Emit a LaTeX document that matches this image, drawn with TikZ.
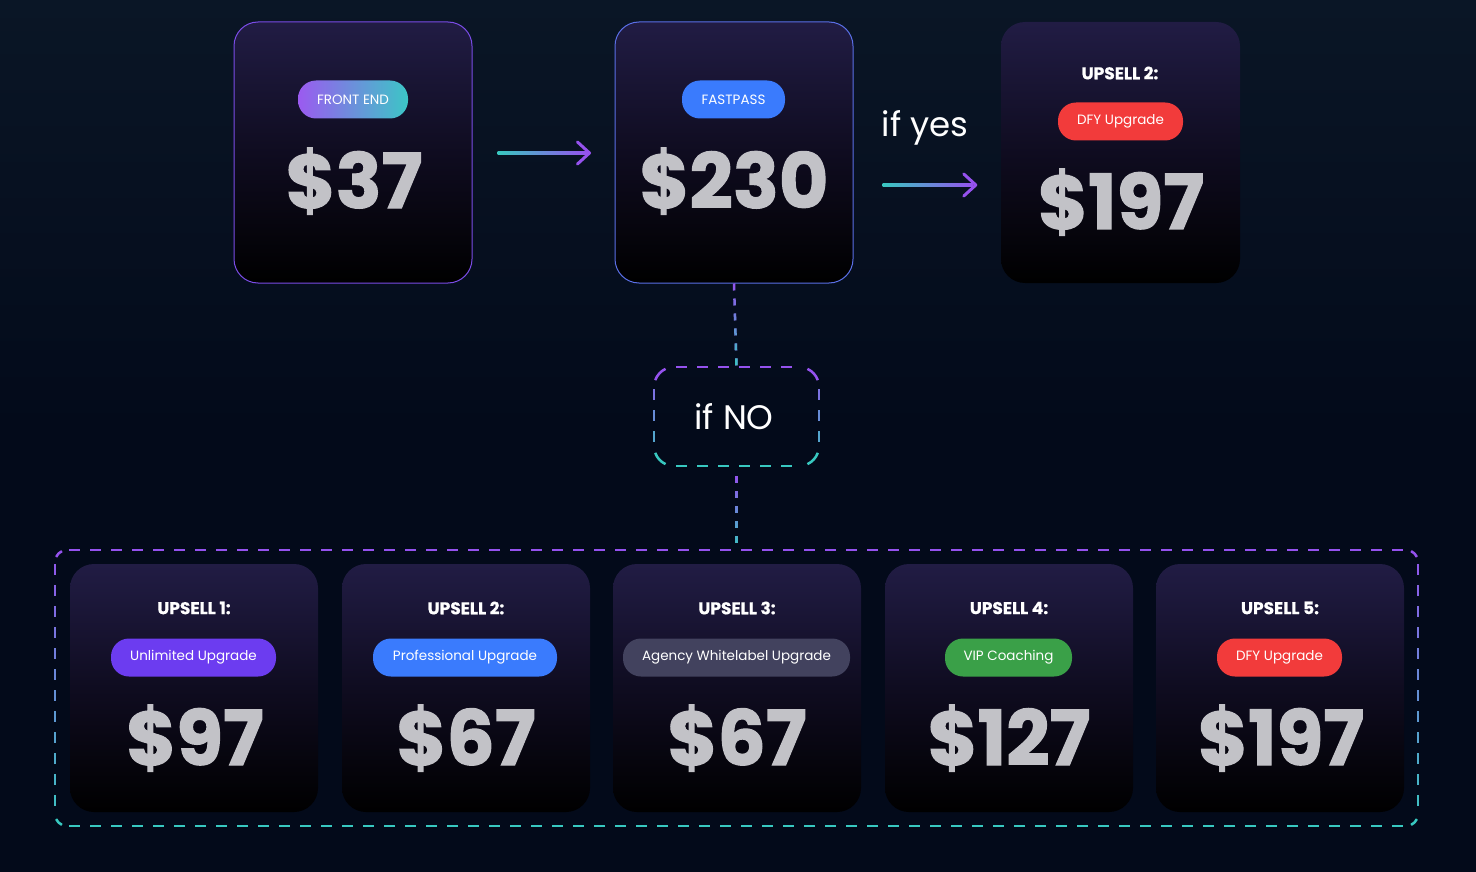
\documentclass[tikz,border=0pt]{standalone}
\usepackage{fontspec}
\setmainfont{Poppins}
\newfontfamily\pricefont{Poppins}[BoldFeatures={FakeBold=1.5}]
\newfontfamily\headfont{Poppins}[BoldFeatures={FakeBold=0.6}]
\usetikzlibrary{calc,fadings}
\definecolor{bg}{HTML}{030A1A}
\definecolor{bgtop}{HTML}{0A1626}
\definecolor{cardtop}{HTML}{211C44}
\definecolor{cardmid}{HTML}{0F0C20}
\definecolor{cardline}{HTML}{7A4CE6}
\definecolor{cardline2}{HTML}{5A6FE6}
\definecolor{dpurple}{HTML}{9552EE}
\definecolor{dteal}{HTML}{38C8C0}
\definecolor{pricecol}{HTML}{C2C2C7}
\definecolor{pillpurpleA}{HTML}{9B5AF0}
\definecolor{pilltealB}{HTML}{3CC6C6}
\definecolor{pillblue}{HTML}{3A7BFD}
\definecolor{pillred}{HTML}{F23B3B}
\definecolor{pillviolet}{HTML}{6C3CF0}
\definecolor{pillgray}{HTML}{42425E}
\definecolor{pillgreen}{HTML}{3AA048}
\tikzfading[name=fadeup, top color=transparent!100, bottom color=transparent!0]
\begin{document}
\begin{tikzpicture}[x=1pt,y=-1pt,
  card/.style={rectangle, rounded corners=24pt, top color=cardtop, bottom color=black, middle color=cardmid, inner sep=0pt},
  topcard/.style={card, minimum width=238pt, minimum height=261pt},
  lowcard/.style={card, minimum width=248pt, minimum height=248pt},
  pill/.style={rectangle, rounded corners=18pt, minimum height=38pt, text=white, inner sep=0pt, font=\fontsize{13.5}{15}\selectfont},
  price/.style={anchor=base, text=pricecol, inner sep=0pt, font=\pricefont\bfseries\fontsize{76}{82}\selectfont},
  head/.style={text=white, inner sep=0pt, font=\headfont\bfseries\fontsize{17}{20}\selectfont},
  hand/.style={text=white, inner sep=0pt, font=\fontsize{34}{38}\selectfont},
  arrowhead/.style={draw=dpurple, line width=3pt, line cap=round, line join=round},
  dashline/.style={line width=2.5pt, dash pattern=on 7pt off 8pt},
  dsh/.style={line width=2.5pt},
  dedge/.style={line width=2.5pt, dash pattern=on 11pt off 10pt}
]
% background
\fill[bg] (0,0) rectangle (1476,872);
\shade[top color=bgtop, bottom color=bg] (0,0) rectangle (1476,430);

% top row cards
\node[topcard, draw=cardline, line width=1pt] (fe) at (353,152.5) {};
\node[topcard, draw=cardline2, line width=1pt] (fp) at (734,152.5) {};
\node[topcard, minimum width=239pt] (up2t) at (1120.5,152.5) {};

\node[pill, minimum width=110pt, left color=pillpurpleA, right color=pilltealB] (fepill) at (353,99.5) {FRONT END};
\node[price] (feprice) at (354,208) {\$37};

\node[pill, minimum width=103pt, fill=pillblue] (fppill) at (733.5,99.5) {FASTPASS};
\node[price] (fpprice) at (734,208) {\$230};

\node[head] (up2thead) at (1120,73) {UPSELL 2:};
\node[pill, minimum width=125pt, fill=pillred] (up2tpill) at (1120.5,121.5) {DFY Upgrade};
\node[price] (up2tprice) at (1121,229) {\$197};

% arrow 1
\coordinate (a1s) at ($(fe.east)+(25,0.5)$);
\coordinate (a1e) at ($(fp.west)+(-25,0.5)$);
\shade[left color=dteal, right color=dpurple] ($(a1s)+(0,-1.5)$) rectangle ($(a1e)+(-3,1.5)$);
\draw[arrowhead] ($(a1e)+(-12,-11)$) -- (a1e) -- ($(a1e)+(-12,11)$);

% arrow 2
\node[hand] (ifyes) at (925,128) {if yes};
\coordinate (a2s) at ($(fp.east)+(29,32.5)$);
\coordinate (a2e) at ($(up2t.west)+(-25,32.5)$);
\shade[left color=dteal, right color=dpurple] ($(a2s)+(0,-1.5)$) rectangle ($(a2e)+(-3,1.5)$);
\draw[arrowhead] ($(a2e)+(-12,-11)$) -- (a2e) -- ($(a2e)+(-12,11)$);

% if NO box (x 654..819, y 367..466, r 20)
\node[minimum width=165pt, minimum height=99pt, inner sep=0pt] (ifno) at (736.5,416.5) {};
\node[hand] (ifnotext) at (734,417) {if NO};
\draw[dedge, draw=dpurple] (676,367) -- (797,367);
\draw[dedge, draw=dteal] (676,466) -- (797,466);
\foreach \i in {0,1,2} {
  \pgfmathsetmacro\p{(22+21*\i+5.5)/99*100}
  \draw[dsh, draw=dteal!\p!dpurple] (654,389+21*\i) -- (654,400+21*\i);
  \draw[dsh, draw=dteal!\p!dpurple] (819,389+21*\i) -- (819,400+21*\i);
}
\draw[dsh, draw=dpurple] (674,387) ++(200:20) arc[start angle=200, end angle=245, radius=20];
\draw[dsh, draw=dpurple] (799,387) ++(295:20) arc[start angle=295, end angle=340, radius=20];
\draw[dsh, draw=dteal] (799,446) ++(20:20) arc[start angle=20, end angle=65, radius=20];
\draw[dsh, draw=dteal] (674,446) ++(115:20) arc[start angle=115, end angle=160, radius=20];

% group box (x 55..1418, y 550..826, r 12)
\node[minimum width=1363pt, minimum height=276pt, inner sep=0pt] (grp) at (736.5,688) {};
\draw[dedge, draw=dpurple] (69,550) -- (1404,550);
\draw[dedge, draw=dteal] (69,826) -- (1404,826);
\foreach \i in {0,...,11} {
  \pgfmathsetmacro\p{(14+21*\i+5.5)/276*100}
  \draw[dsh, draw=dteal!\p!dpurple] (55,564+21*\i) -- (55,575+21*\i);
  \draw[dsh, draw=dteal!\p!dpurple] (1418,564+21*\i) -- (1418,575+21*\i);
}
\draw[dsh, draw=dpurple] (67,562) ++(205:12) arc[start angle=205, end angle=245, radius=12];
\draw[dsh, draw=dpurple] (1406,562) ++(295:12) arc[start angle=295, end angle=335, radius=12];
\draw[dsh, draw=dteal] (1406,814) ++(25:12) arc[start angle=25, end angle=65, radius=12];
\draw[dsh, draw=dteal] (67,814) ++(115:12) arc[start angle=115, end angle=155, radius=12];

% dashed connectors
\draw[dashline, draw=dpurple] (fp.south) -- (ifno.north);
\draw[dashline, draw=dteal, path fading=fadeup] (fp.south) -- (ifno.north) ($(fp.south)+(-4,0)$) ($(ifno.north)+(4,0)$);
\draw[dashline, draw=dpurple] ($(ifno.south)+(0,10)$) -- (grp.north);
\draw[dashline, draw=dteal, path fading=fadeup] ($(ifno.south)+(0,10)$) -- (grp.north) ($(ifno.south)+(-4,10)$) ($(grp.north)+(4,0)$);

% lower cards
\node[lowcard] (u1) at (194,688) {};
\node[lowcard] (u2) at (466,688) {};
\node[lowcard] (u3) at (737,688) {};
\node[lowcard] (u4) at (1009,688) {};
\node[lowcard] (u5) at (1280,688) {};

\node[head] (u1head) at (194,608) {UPSELL 1:};
\node[head] (u2head) at (466,608) {UPSELL 2:};
\node[head] (u3head) at (737,608) {UPSELL 3:};
\node[head] (u4head) at (1009,608) {UPSELL 4:};
\node[head] (u5head) at (1280,608) {UPSELL 5:};

\node[pill, minimum width=165pt, fill=pillviolet] (u1pill) at (193.5,657.5) {Unlimited Upgrade};
\node[pill, minimum width=184pt, fill=pillblue] (u2pill) at (465,657.5) {Professional Upgrade};
\node[pill, minimum width=227pt, fill=pillgray] (u3pill) at (736.5,657.5) {Agency Whitelabel Upgrade};
\node[pill, minimum width=127pt, fill=pillgreen] (u4pill) at (1008.5,657.5) {VIP Coaching};
\node[pill, minimum width=125pt, fill=pillred] (u5pill) at (1279.5,657.5) {DFY Upgrade};

\node[price] (u1price) at (195,765) {\$97};
\node[price] (u2price) at (466,765) {\$67};
\node[price] (u3price) at (737,765) {\$67};
\node[price] (u4price) at (1009,765) {\$127};
\node[price] (u5price) at (1281,765) {\$197};
\end{tikzpicture}
\end{document}
